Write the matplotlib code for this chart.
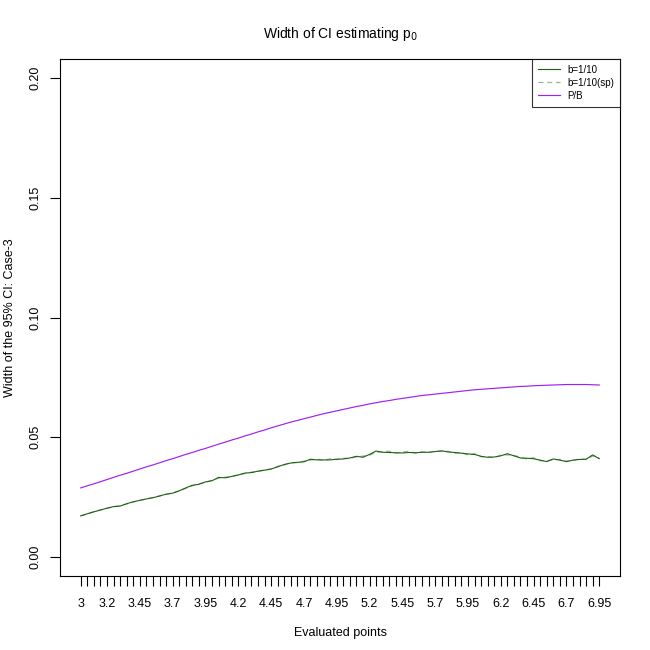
import matplotlib
matplotlib.use("Agg")
import matplotlib.pyplot as plt

plt.rcParams['font.family'] = ['Liberation Sans', 'DejaVu Sans']

x_points = [3.00, 3.05, 3.10, 3.15, 3.20, 3.25, 3.30, 3.35, 3.40, 3.45,
            3.50, 3.55, 3.60, 3.65, 3.70, 3.75, 3.80, 3.85, 3.90, 3.95,
            4.00, 4.05, 4.10, 4.15, 4.20, 4.25, 4.30, 4.35, 4.40, 4.45,
            4.50, 4.55, 4.60, 4.65, 4.70, 4.75, 4.80, 4.85, 4.90, 4.95,
            5.00, 5.05, 5.10, 5.15, 5.20, 5.25, 5.30, 5.35, 5.40, 5.45,
            5.50, 5.55, 5.60, 5.65, 5.70, 5.75, 5.80, 5.85, 5.90, 5.95,
            6.00, 6.05, 6.10, 6.15, 6.20, 6.25, 6.30, 6.35, 6.40, 6.45,
            6.50, 6.55, 6.60, 6.65, 6.70, 6.75, 6.80, 6.85, 6.90, 6.95]

b_1_10 = [0.0171, 0.0180, 0.0188, 0.0196, 0.0203, 0.0210, 0.0212, 0.0222, 0.0230, 0.0236,
          0.0242, 0.0247, 0.0254, 0.0262, 0.0266, 0.0276, 0.0288, 0.0299, 0.0303, 0.0313,
          0.0318, 0.0332, 0.0330, 0.0336, 0.0342, 0.0350, 0.0352, 0.0358, 0.0362, 0.0367,
          0.0376, 0.0386, 0.0392, 0.0395, 0.0397, 0.0408, 0.0405, 0.0405, 0.0405, 0.0408,
          0.0409, 0.0413, 0.0420, 0.0416, 0.0428, 0.0442, 0.0437, 0.0436, 0.0435, 0.0434,
          0.0436, 0.0435, 0.0437, 0.0437, 0.0440, 0.0443, 0.0438, 0.0436, 0.0433, 0.0430,
          0.0428, 0.0420, 0.0416, 0.0417, 0.0422, 0.0431, 0.0422, 0.0413, 0.0412, 0.0410,
          0.0404, 0.0398, 0.0409, 0.0404, 0.0398, 0.0404, 0.0407, 0.0408, 0.0426, 0.0410]

b_1_10_sp = [0.0172, 0.0179, 0.0189, 0.0195, 0.0204, 0.0209, 0.0214, 0.0221, 0.0229, 0.0237,
             0.0241, 0.0248, 0.0255, 0.0260, 0.0268, 0.0275, 0.0286, 0.0297, 0.0305, 0.0311,
             0.0320, 0.0329, 0.0333, 0.0334, 0.0344, 0.0348, 0.0354, 0.0356, 0.0364, 0.0366,
             0.0378, 0.0383, 0.0394, 0.0393, 0.0400, 0.0404, 0.0409, 0.0402, 0.0410, 0.0406,
             0.0412, 0.0411, 0.0418, 0.0421, 0.0425, 0.0436, 0.0440, 0.0441, 0.0433, 0.0438,
             0.0441, 0.0433, 0.0439, 0.0435, 0.0442, 0.0440, 0.0441, 0.0432, 0.0437, 0.0425,
             0.0431, 0.0418, 0.0419, 0.0414, 0.0425, 0.0426, 0.0424, 0.0416, 0.0409, 0.0414,
             0.0401, 0.0402, 0.0405, 0.0407, 0.0400, 0.0402, 0.0410, 0.0406, 0.0421, 0.0414]

p_b = [0.0288, 0.0297, 0.0305, 0.0314, 0.0323, 0.0332, 0.0341, 0.0349, 0.0358, 0.0367,
       0.0376, 0.0384, 0.0393, 0.0402, 0.0410, 0.0419, 0.0428, 0.0436, 0.0445, 0.0453,
       0.0462, 0.0471, 0.0479, 0.0488, 0.0496, 0.0505, 0.0513, 0.0522, 0.0530, 0.0539,
       0.0547, 0.0555, 0.0563, 0.0570, 0.0577, 0.0584, 0.0591, 0.0598, 0.0604, 0.0610,
       0.0616, 0.0622, 0.0628, 0.0633, 0.0639, 0.0644, 0.0649, 0.0653, 0.0658, 0.0662,
       0.0666, 0.0670, 0.0674, 0.0677, 0.0680, 0.0683, 0.0686, 0.0689, 0.0692, 0.0695,
       0.0698, 0.0700, 0.0702, 0.0704, 0.0706, 0.0708, 0.0710, 0.0712, 0.0713, 0.0715,
       0.0716, 0.0717, 0.0718, 0.0719, 0.0720, 0.0720, 0.0720, 0.0720, 0.0719, 0.0718]

x_labels_shown = ["3", "3.2", "3.45", "3.7", "3.95", "4.2", "4.45", "4.7", "4.95",
                  "5.2", "5.45", "5.7", "5.95", "6.2", "6.45", "6.7", "6.95"]

y_ticks = [0.00, 0.05, 0.10, 0.15, 0.20]
y_tick_labels = ["0.00", "0.05", "0.10", "0.15", "0.20"]

fig = plt.figure(figsize=(6.5, 6.5), dpi=100)
ax = fig.add_axes([60/650, 74/650, 560/650, 517/650])

ax.plot(x_points, b_1_10_sp, color='#8fbc8f', lw=0.9, ls=(0, (4, 3)), label='b=1/10(sp)', zorder=2)
ax.plot(x_points, b_1_10, color='#1f5e14', lw=0.8, label='b=1/10', zorder=3)
ax.plot(x_points, p_b, color='#a020f0', lw=0.85, label='P/B', zorder=3)

xr = x_points[-1] - x_points[0]
ax.set_xlim(x_points[0] - 0.04 * xr, x_points[-1] + 0.04 * xr)
ax.set_ylim(-0.008, 0.208)

tick_labels = []
for v in x_points:
    s = ('%.2f' % v).rstrip('0').rstrip('.')
    tick_labels.append(s if s in x_labels_shown else '')
ax.set_xticks(x_points)
ax.set_xticklabels(tick_labels, fontsize=9)
ax.set_yticks(y_ticks)
ax.set_yticklabels(y_tick_labels, fontsize=9, rotation=90, va='center')

ax.tick_params(axis='both', length=7, width=0.8, color='black', direction='out')
ax.tick_params(axis='x', pad=9)
ax.tick_params(axis='y', pad=6)
for sp in ax.spines.values():
    sp.set_linewidth(0.8)
    sp.set_color('black')

ax.set_title('Width of CI estimating p$_0$', fontsize=10, pad=15)
ax.set_xlabel('Evaluated points', fontsize=9, labelpad=12)
ax.set_ylabel('Width of the 95% CI: Case-3', fontsize=9, labelpad=10)

handles, labels = ax.get_legend_handles_labels()
order = [1, 0, 2]
leg = ax.legend([handles[i] for i in order], [labels[i] for i in order],
                loc='upper right', fontsize=7, frameon=True, fancybox=False,
                edgecolor='black', borderaxespad=0, handlelength=2.2,
                borderpad=0.6, labelspacing=0.3)
leg.get_frame().set_linewidth(0.8)

fig.savefig('out.png', dpi=100)
